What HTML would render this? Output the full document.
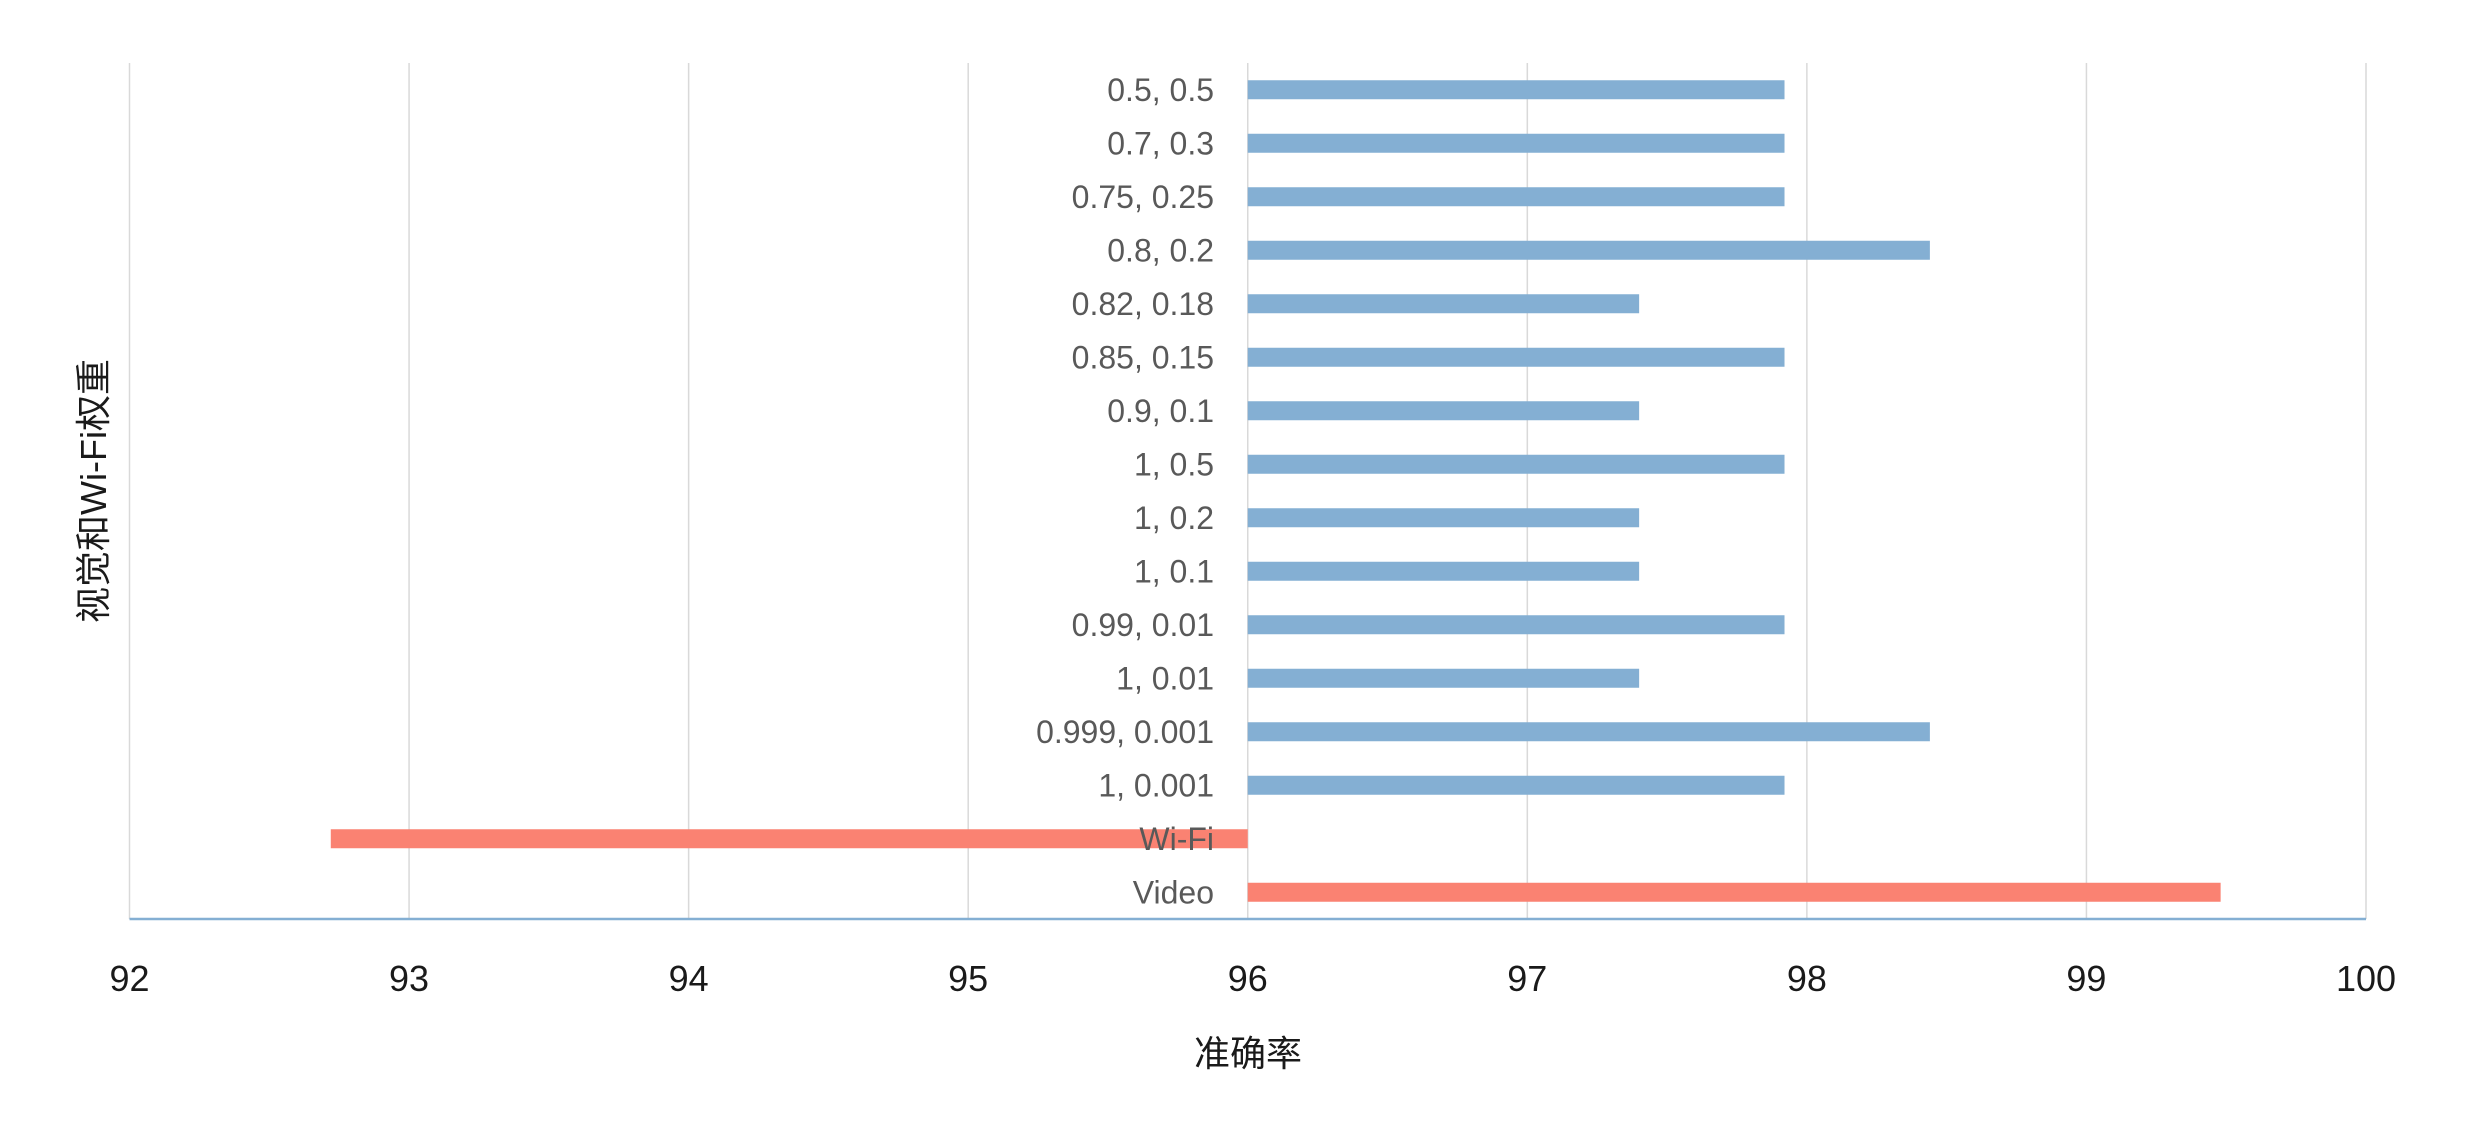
<!DOCTYPE html>
<html><head><meta charset="utf-8"><style>
body{margin:0;background:#fff}
svg text{font-family:"Liberation Sans","Noto Sans CJK SC",sans-serif}
</style></head><body>
<svg id="chart" width="2469" height="1116" xmlns="http://www.w3.org/2000/svg"></svg>
<script>
const categories=["0.5, 0.5","0.7, 0.3","0.75, 0.25","0.8, 0.2","0.82, 0.18","0.85, 0.15","0.9, 0.1","1, 0.5","1, 0.2","1, 0.1","0.99, 0.01","1, 0.01","0.999, 0.001","1, 0.001","Wi-Fi","Video"];
const values=[97.92,97.92,97.92,98.44,97.4,97.92,97.4,97.92,97.4,97.4,97.92,97.4,98.44,97.92,92.72,99.48];
const seriesType=["combo","combo","combo","combo","combo","combo","combo","combo","combo","combo","combo","combo","combo","combo","single","single"];
const xTicks=[92,93,94,95,96,97,98,99,100];
const NS="http://www.w3.org/2000/svg";
const svg=document.getElementById('chart');
const x0=129.5,x1=2366,xMin=92,xMax=100,base=96;
const yTop=63,yBot=919;
function xs(v){return x0+(v-xMin)/(xMax-xMin)*(x1-x0);}
function yc(i){const step=(yBot-yTop)/categories.length;return yTop+step*(i+0.5);}
function mk(t,a,txt){const e=document.createElementNS(NS,t);for(const k in a)e.setAttribute(k,a[k]);if(txt!==undefined)e.textContent=txt;svg.appendChild(e);return e;}
xTicks.forEach(t=>{
  const g=mk('line',{x1:xs(t),x2:xs(t),y1:yTop,y2:yBot,stroke:'#d9d9d9','stroke-width':1.5});
  
  
  const l=mk('text',{x:xs(t),y:991,'font-size':36,'text-anchor':'middle',fill:'#1a1a1a'},t);
  
  
});
const ax=mk('line',{x1:x0,x2:x1,y1:yBot,y2:yBot,stroke:'#84afd3','stroke-width':2.5});


const bh=19;
categories.forEach((c,i)=>{
  const v=values[i],y=yc(i);
  const a=Math.min(xs(v),xs(base)),w=Math.abs(xs(v)-xs(base));
  const r=mk('rect',{x:a,y:y-bh/2,width:w,height:bh,fill:seriesType[i]==='single'?'#fa8272':'#84afd3'});
  
  
  const t=mk('text',{x:1214,y:y+11,'font-size':32,'text-anchor':'end',fill:'#595959'},c);
  
  
});
const xt=mk('text',{x:1248,y:1066,'font-size':36,'text-anchor':'middle',fill:'#1a1a1a'},'准确率');


const yt=mk('text',{x:0,y:0,'font-size':36,'text-anchor':'middle',fill:'#1a1a1a',transform:'translate(106,491) rotate(-90)'},'视觉和Wi-Fi权重');


</script>
</body></html>
